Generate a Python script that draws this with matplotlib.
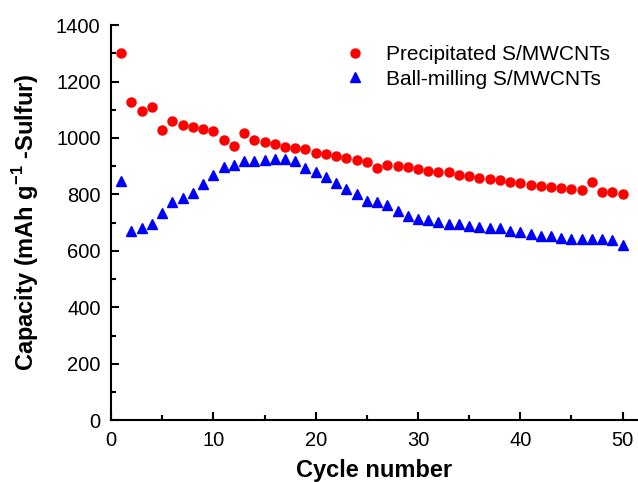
import matplotlib
matplotlib.use("Agg")
import matplotlib.pyplot as plt
from matplotlib.ticker import MultipleLocator

plt.rcParams['font.family'] = ['Liberation Sans', 'DejaVu Sans']
plt.rcParams['mathtext.fontset'] = 'custom'
plt.rcParams['mathtext.rm'] = 'Liberation Sans'
plt.rcParams['mathtext.bf'] = 'Liberation Sans:bold'

cycles = list(range(1, 51))

precipitated = [1300, 1129, 1096, 1109, 1029, 1061, 1046, 1039, 1032, 1026,
                994, 973, 1018, 994, 986, 979, 969, 964, 960, 948,
                942, 936, 929, 922, 916, 894, 904, 900, 898, 890,
                883, 880, 878, 868, 865, 860, 853, 850, 845, 841,
                833, 829, 826, 824, 821, 815, 843, 809, 808, 801]

ball_milling = [846, 671, 680, 696, 733, 774, 788, 804, 838, 868,
                898, 903, 918, 918, 921, 927, 927, 918, 893, 878,
                861, 839, 819, 800, 778, 772, 762, 741, 724, 713,
                709, 704, 697, 695, 689, 683, 681, 681, 671, 668,
                659, 653, 653, 645, 642, 642, 642, 642, 638, 620]

fig = plt.figure(figsize=(6.38, 4.82), dpi=100)
ax = fig.add_axes([0.174, 0.128, 0.826, 0.820])

ax.plot(cycles, precipitated, linestyle='none', marker='o', markersize=6.5,
        color='#ff0000', label="Precipitated S/MWCNTs")
ax.plot(cycles, ball_milling, linestyle='none', marker='^', markersize=7.5,
        color='#0000ff', label="Ball-milling S/MWCNTs")

ax.set_xlim(0, 51.5)
ax.set_ylim(0, 1400)
ax.xaxis.set_major_locator(MultipleLocator(10))
ax.xaxis.set_minor_locator(MultipleLocator(5))
ax.yaxis.set_major_locator(MultipleLocator(200))
ax.yaxis.set_minor_locator(MultipleLocator(100))

for side in ['top', 'right']:
    ax.spines[side].set_visible(False)
for side in ['left', 'bottom']:
    ax.spines[side].set_linewidth(1.5)

ax.tick_params(which='both', direction='in', width=1.5, labelsize=14.5)
ax.tick_params(which='major', length=6, pad=7.5)
ax.tick_params(which='minor', length=3.5)

ax.set_xlabel("Cycle number", fontsize=17, fontweight='bold', labelpad=7)
ax.set_ylabel(r"Capacity (mAh g$^{\mathbf{-1}}$ -Sulfur)", fontsize=17,
              fontweight='bold', labelpad=11)

ax.legend(loc='upper left', bbox_to_anchor=(0.540, 0.906),
          bbox_transform=fig.transFigure, frameon=False, fontsize=15,
          borderpad=0, borderaxespad=0, handlelength=1.0, handletextpad=1.0,
          labelspacing=0.25)

fig.savefig("out.png", dpi=100)
